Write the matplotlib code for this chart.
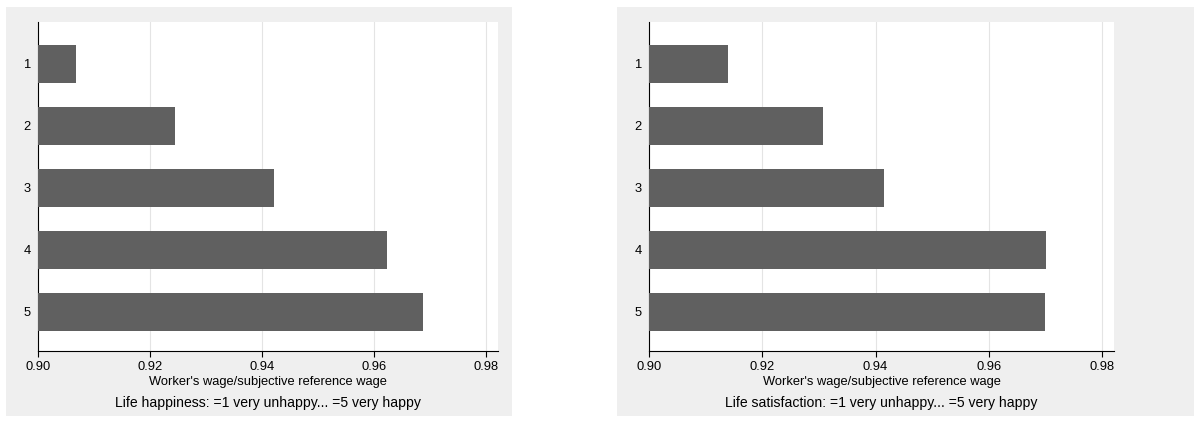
import matplotlib
matplotlib.use("Agg")
import matplotlib.pyplot as plt
from matplotlib.patches import Rectangle

plt.rcParams['font.family'] = ['Liberation Sans', 'DejaVu Sans']

categories = ["1", "2", "3", "4", "5"]
happiness = [0.9068, 0.9244, 0.9422, 0.9622, 0.9687]
satisfaction = [0.9139, 0.9307, 0.9415, 0.9701, 0.9700]
xticks = [0.90, 0.92, 0.94, 0.96, 0.98]
xlabel = "Worker's wage/subjective reference wage"
captions = ["Life happiness: =1 very unhappy... =5 very happy",
            "Life satisfaction: =1 very unhappy... =5 very happy"]

W, H = 1194, 426
fig = plt.figure(figsize=(W / 100, H / 100), dpi=100)
fig.patch.set_facecolor("white")

# grey panel backgrounds (pixel boxes: x0, y0, x1, y1 from top)
panels = [(6, 7, 512, 416), (617, 7, 1194, 416)]
axboxes = [(38, 22, 498, 351), (649, 22, 1114, 351)]

def plotPanel(vals, panel, box, caption):
    x0, y0, x1, y1 = panel
    fig.patches.append(Rectangle((x0 / W, 1 - y1 / H), (x1 - x0) / W, (y1 - y0) / H,
                                 transform=fig.transFigure, facecolor="#efefef",
                                 edgecolor="none", zorder=-5))
    bx0, by0, bx1, by1 = box
    ax = fig.add_axes([bx0 / W, 1 - by1 / H, (bx1 - bx0) / W, (by1 - by0) / H])
    ax.set_zorder(1)
    ax.set_facecolor("white")
    pos = list(range(1, len(vals) + 1))
    ax.barh(pos, [v - 0.9 for v in vals], left=0.9, height=0.61,
            color="#606060", zorder=3)
    ax.set_xlim(0.9, 0.9821)
    ax.set_ylim(5.63, 0.33)
    ax.set_yticks(pos)
    ax.set_yticklabels(categories, fontsize=9.3)
    ax.tick_params(axis="y", length=0, pad=5)
    ax.set_xticks(xticks)
    ax.set_xticklabels(["%.2f" % t for t in xticks], fontsize=9.3)
    ax.tick_params(axis="x", length=4, width=0.8, pad=3)
    ax.grid(axis="x", color="#e4e4e4", linewidth=0.8, zorder=0)
    for s in ["top", "right"]:
        ax.spines[s].set_visible(False)
    for s in ["left", "bottom"]:
        ax.spines[s].set_linewidth(0.8)
    cx = (bx0 + bx1) / 2 / W
    fig.text(cx, 1 - 381.5 / H, xlabel, ha="center", va="center", fontsize=9.3)
    fig.text(cx, 1 - 403 / H, caption, ha="center", va="center", fontsize=10.1)

plotPanel(happiness, panels[0], axboxes[0], captions[0])
plotPanel(satisfaction, panels[1], axboxes[1], captions[1])

fig.savefig("out.png", dpi=100)
